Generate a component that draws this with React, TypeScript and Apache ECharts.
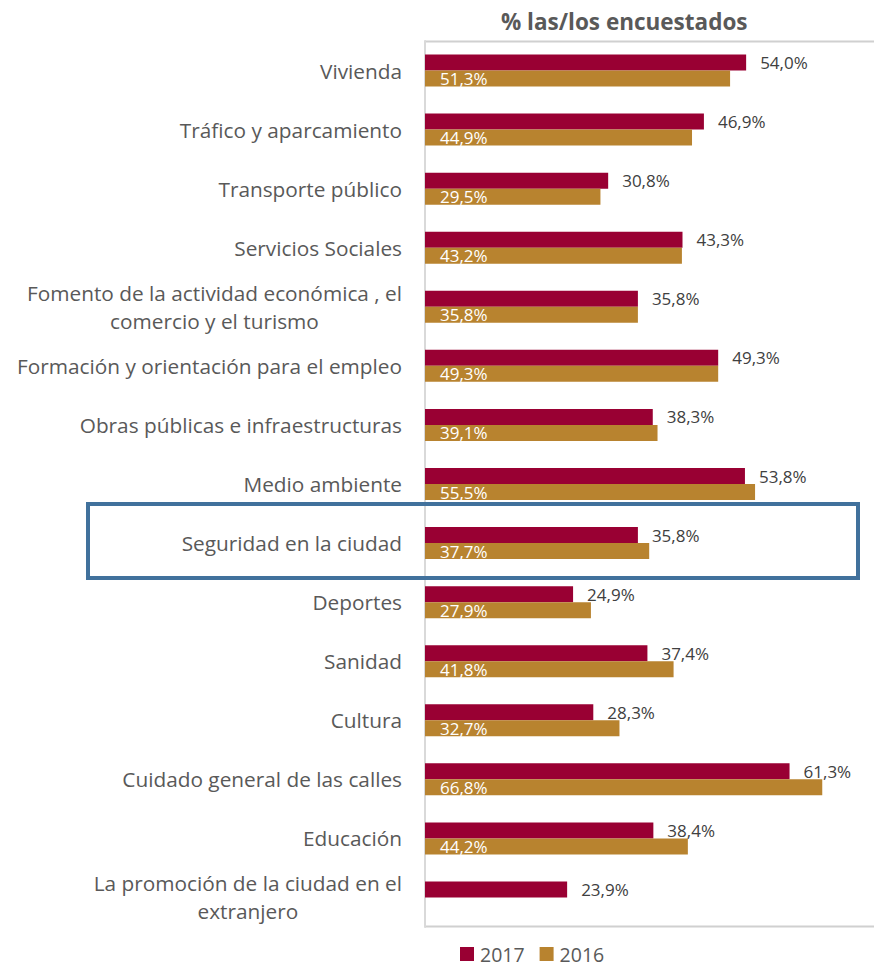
import React, { useEffect, useRef } from "react";
import * as echarts from "echarts";

const categories = [
  "Vivienda",
  "Tráfico y aparcamiento",
  "Transporte público",
  "Servicios Sociales",
  "Fomento de la actividad económica , el\ncomercio y el turismo",
  "Formación y orientación para el empleo",
  "Obras públicas e infraestructuras",
  "Medio ambiente",
  "Seguridad en la ciudad",
  "Deportes",
  "Sanidad",
  "Cultura",
  "Cuidado general de las calles",
  "Educación",
  "La promoción de la ciudad en el\nextranjero",
];

const values2017 = [54.0, 46.9, 30.8, 43.3, 35.8, 49.3, 38.3, 53.8, 35.8, 24.9, 37.4, 28.3, 61.3, 38.4, 23.9];
const values2016 = [51.3, 44.9, 29.5, 43.2, 35.8, 49.3, 39.1, 55.5, 37.7, 27.9, 41.8, 32.7, 66.8, 44.2, null];

const seriesNames = ["2017", "2016"];
const titleText = "% las/los encuestados";

const FONT = "'Open Sans', 'Noto Sans', sans-serif";
const GREY = "#595959";
const C2017 = "#990033";
const C2016 = "#B8832F";
const CAT_SIZE = 20.8;

const fmt = (v: any) => (v == null ? "" : Number(v).toFixed(1).replace(".", ",") + "%");

export default function App() {
  const ref = useRef<HTMLDivElement>(null);
  useEffect(() => {
    if (!ref.current) return;
    const chart = echarts.init(ref.current, undefined, { renderer: "svg" });
    chart.setOption({
      animation: false,
      textStyle: { fontFamily: FONT },
      title: {
        text: titleText,
        left: 496,
        top: 5,
        textStyle: { fontFamily: FONT, fontSize: 22.5, fontWeight: "bold", color: GREY },
      },
      legend: {
        data: seriesNames,
        left: 460,
        top: 944,
        padding: 0,
        itemWidth: 14,
        itemHeight: 14,
        itemGap: 15,
        icon: "rect",
        textStyle: { fontFamily: FONT, fontSize: 19.5, color: GREY, lineHeight: 18, padding: [0, 0, 0, 1] },
      },
      grid: { left: 425, right: 0, top: 41, bottom: 40, containLabel: false },
      xAxis: {
        type: "value",
        min: 0,
        max: 75.5,
        show: false,
      },
      yAxis: {
        type: "category",
        data: categories,
        inverse: true,
        axisLine: { show: true, lineStyle: { color: "#D9D9D9", width: 2 } },
        axisTick: { show: false },
        splitLine: { show: false },
        axisLabel: {
          margin: 23,
          fontFamily: FONT,
          fontSize: CAT_SIZE,
          color: GREY,
          lineHeight: 28,
          formatter: (v: string) =>
            v
              .split("\n")
              .map((s) => `{c|${s}}`)
              .join("\n"),
          rich: {
            c: { align: "center", fontFamily: FONT, fontSize: CAT_SIZE, color: GREY, lineHeight: 28 },
          },
        },
      },
      graphic: [
        {
          type: "line",
          shape: { x1: 425, y1: 41.5, x2: 874, y2: 41.5 },
          style: { stroke: "#D0D0D0", lineWidth: 2 },
          silent: true,
        },
        {
          type: "line",
          shape: { x1: 425, y1: 926.5, x2: 874, y2: 926.5 },
          style: { stroke: "#D0D0D0", lineWidth: 2 },
          silent: true,
        },
        {
          type: "rect",
          shape: { x: 88, y: 504, width: 770, height: 74 },
          style: { fill: "none", stroke: "#41719C", lineWidth: 4 },
          silent: true,
          z: 100,
        },
      ],
      series: [
        {
          name: seriesNames[0],
          type: "bar",
          data: values2017,
          barWidth: 16,
          barGap: "0%",
          itemStyle: { color: C2017 },
          label: {
            show: true,
            position: "right",
            distance: 14,
            formatter: (p: any) => fmt(p.value),
            fontFamily: FONT,
            fontSize: 17,
            color: "#404040",
          },
        },
        {
          name: seriesNames[1],
          type: "bar",
          data: values2016,
          barWidth: 16,
          barGap: "0%",
          itemStyle: { color: C2016 },
          label: {
            show: true,
            position: "insideLeft",
            distance: 15,
            formatter: (p: any) => fmt(p.value),
            fontFamily: FONT,
            fontSize: 17,
            color: "#FFFFFF",
          },
        },
      ],
    });
    return () => chart.dispose();
  }, []);
  return <div ref={ref} style={{ width: 874, height: 967, position: "absolute", left: 0, top: 0 }} />;
}
